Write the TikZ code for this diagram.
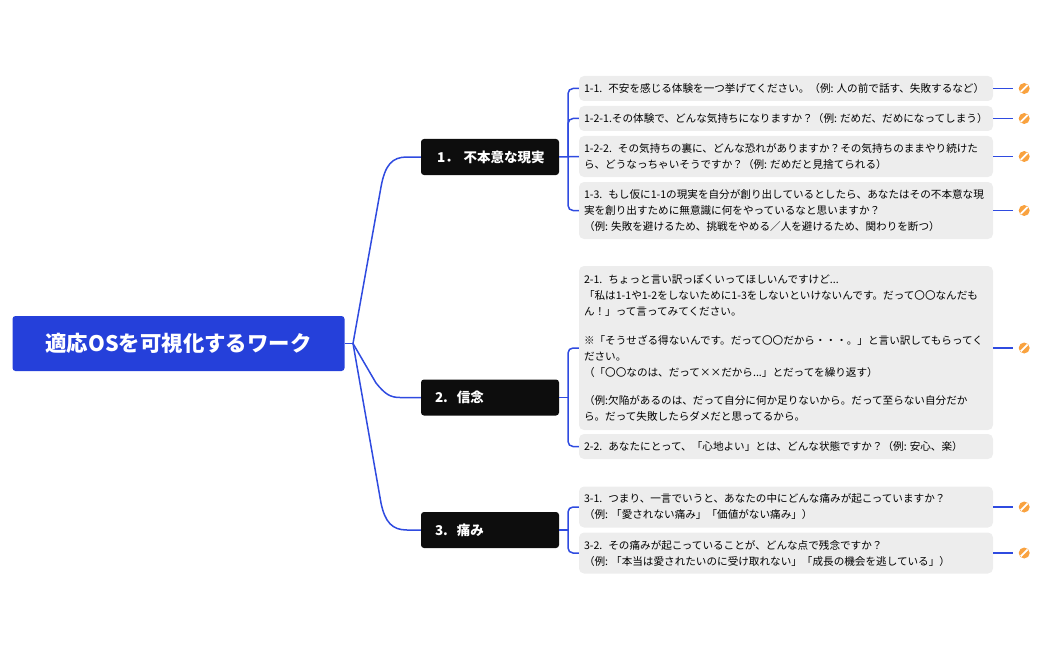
\documentclass[tikz,border=0pt]{standalone}
\usepackage{fontspec}
\setmainfont{Noto Sans CJK JP}
\usetikzlibrary{calc}
\definecolor{rootblue}{HTML}{2540DA}
\definecolor{linkblue}{HTML}{2F4BE0}
\definecolor{topicblack}{HTML}{0D0D0D}
\definecolor{leafgray}{HTML}{EDEDED}
\definecolor{iconorange}{HTML}{F9A23F}
\tikzset{
    rootbox/.style={fill=rootblue,text=white,rounded corners=3,minimum width=332,minimum height=55,font=\fontsize{21.4}{26}\selectfont\bfseries},
    topicbox/.style={fill=topicblack,text=white,rounded corners=3,minimum width=138,minimum height=36,text width=110,inner xsep=14,inner ysep=0,align=left,font=\fontsize{13.5}{16}\selectfont\bfseries},
    leafbox/.style={fill=leafgray,text=black,rounded corners=5,minimum width=414,text width=404,inner xsep=5,inner ysep=0,align=left,font=\fontsize{10.6}{16}\selectfont},
    link/.style={draw=linkblue,line width=1.5},
    editicon/.style={circle,fill=iconorange,inner sep=0,minimum size=11}
}
\begin{document}
\begin{tikzpicture}[x=1pt,y=-1pt]
    \useasboundingbox (0,0) rectangle (1049,650);
    \node[rootbox] (root) at (178.5,343.5) {適応OSを可視化するワーク};
    \node[topicbox] (topica) at (490,157) {\kern2pt 1．\kern5pt 不本意な現実};
    \node[topicbox] (topicb) at (490,397.5) {2.\kern9pt 信念};
    \node[topicbox] (topicc) at (490,530) {3.\kern9pt 痛み};
    \node[leafbox,minimum height=25] (leafa) at (786,88.5) {1-1.\kern6pt 不安を感じる体験を一つ挙げてください。（例:\kern3pt 人の前で話す、失敗するなど）};
    \node[leafbox,minimum height=25] (leafb) at (786,118.5) {1-2-1.その体験で、どんな気持ちになりますか？（例:\kern3pt だめだ、だめになってしまう）};
    \node[leafbox,minimum height=41] (leafc) at (786,156.5) {1-2-2.\kern6pt その気持ちの裏に、どんな恐れがありますか？その気持ちのままやり続けた\\ら、どうなっちゃいそうですか？（例:\kern3pt だめだと見捨てられる）};
    \node[leafbox,minimum height=57] (leafd) at (786,210.5) {1-3.\kern6pt もし仮に1-1の現実を自分が創り出しているとしたら、あなたはその不本意な現\\実を創り出すために無意識に何をやっているなと思いますか？\\（例:\kern3pt 失敗を避けるため、挑戦をやめる／人を避けるため、関わりを断つ）};
    \node[leafbox,minimum height=164] (leafe) at (786,348) {2-1.\kern6pt ちょっと言い訳っぽくいってほしいんですけど...\\「私は1-1や1-2をしないために1-3をしないといけないんです。だって〇〇なんだも\\ん！」って言ってみてください。\\[12.7pt]※「そうせざる得ないんです。だって〇〇だから・・・。」と言い訳してもらってく\\ださい。\\（「〇〇なのは、だって××だから...」とだってを繰り返す）\\[12.7pt]（例:欠陥があるのは、だって自分に何か足りないから。だって至らない自分だか\\ら。だって失敗したらダメだと思ってるから。};
    \node[leafbox,minimum height=25] (leaff) at (786,446.5) {2-2.\kern6pt あなたにとって、「心地よい」とは、どんな状態ですか？（例:\kern3pt 安心、楽）};
    \node[leafbox,minimum height=41] (leafg) at (786,507) {3-1.\kern6pt つまり、一言でいうと、あなたの中にどんな痛みが起こっていますか？\\（例:\kern3pt 「愛されない痛み」「価値がない痛み」）};
    \node[leafbox,minimum height=41] (leafh) at (786,553) {3-2.\kern6pt その痛みが起こっていることが、どんな点で残念ですか？\\（例:\kern3pt 「本当は愛されたいのに受け取れない」「成長の機会を逃している」）};
    \coordinate (hub) at (353,343.5);
    \coordinate (spinea) at (568,157);
    \coordinate (spineb) at (568,397.5);
    \coordinate (spinec) at (568,530);
    \draw[link] (root.east) -- (hub);
    \draw[link] (hub) -- (381,187) .. controls (385,165) and (392,157) .. (407,157) -- (topica.west);
    \draw[link] (hub) -- (376,383) .. controls (385,394) and (390,397.5) .. (400,397.5) -- (topicb.west);
    \draw[link] (hub) -- (381,503) .. controls (385,522) and (392,530) .. (407,530) -- (topicc.west);
    \draw[link] (topica.east) -- (leafc.west);
    \draw[link] (topicb.east) -- (spineb);
    \draw[link] (topicc.east) -- (spinec);
    \draw[link,rounded corners=5] (leafa.west) -| (spinea) |- (leafd.west);
    \draw[link,rounded corners=5] (spinea) |- (leafb.west);
    \draw[link,rounded corners=5] (leafe.west) -| (spineb) |- (leaff.west);
    \draw[link,rounded corners=5] (leafg.west) -| (spinec) |- (leafh.west);
    \foreach \leaf in {leafa,leafb,leafc,leafd,leafe,leafg,leafh} {
        \node[editicon] (icon\leaf) at ($(\leaf.east)+(31,0)$) {};
        \draw[link,shorten >=5.5] (\leaf.east) -- (icon\leaf.west);
        \draw[white,line width=1.8,shorten >=0.8,shorten <=0.8] (icon\leaf.south west) -- (icon\leaf.north east);
    }
\end{tikzpicture}
\end{document}
